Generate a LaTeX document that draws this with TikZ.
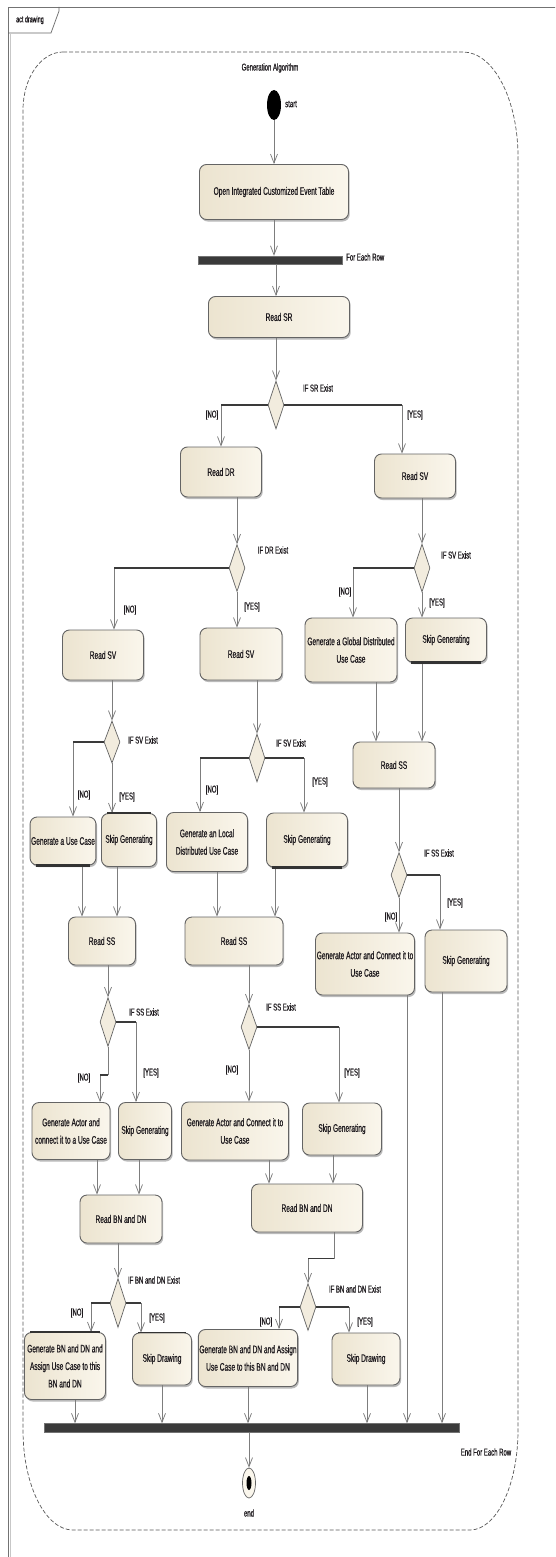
\documentclass[tikz,border=0pt]{standalone}
\usepackage{fontspec}
\setmainfont{Liberation Sans}[FakeStretch=0.6,FakeBold=0.6]
\usetikzlibrary{arrows.meta,shapes.geometric,shadows}

\definecolor{boxA}{RGB}{236,228,208}
\definecolor{boxB}{RGB}{250,246,236}
\definecolor{boxline}{RGB}{100,100,100}
\definecolor{flowc}{RGB}{125,125,125}
\definecolor{darkc}{RGB}{58,58,58}
\definecolor{txt}{RGB}{30,26,30}

\tikzset{
  act/.style={rectangle, rounded corners=7pt, draw=boxline, line width=0.9pt,
    left color=boxA, right color=boxB, align=center, inner sep=1pt,
    font=\fontsize{11}{17.5}\selectfont, text=txt,
    drop shadow={shadow xshift=1.2pt, shadow yshift=-2pt, fill=black!45, opacity=.6}},
  dec/.style={diamond, draw=boxline, line width=0.7pt, fill=boxA!70!white,
    minimum width=16pt, minimum height=48pt, inner sep=0pt},
  bar/.style={rectangle, fill=darkc, draw=black!55, inner sep=0pt},
  flow/.style={draw=flowc, line width=0.75pt, -{Straight Barb[length=9pt,width=7pt]}},
  branch/.style={draw=darkc, line width=1.4pt},
  lbl/.style={font=\fontsize{10}{12}\selectfont, text=txt, inner sep=0pt},
  heavy/.style={draw=black!80, line width=2.2pt},
}

\begin{document}
\begin{tikzpicture}[x=1pt,y=-1pt]
\clip (0,0) rectangle (555,1557);
\fill[white] (0,0) rectangle (555,1557);

% diagram frame and its name tab
\draw[black!55, line width=0.8pt] (8,1600) -- (8,7) -- (600,7);
\draw[black!22, line width=0.8pt] (10.5,1600) -- (10.5,34);
\draw[black!60, line width=0.7pt] (8,33) -- (51,33) -- (59,11) -- (59,7);
\node[lbl, font=\fontsize{9}{10}\selectfont] (frametitle) at (30,20) {act drawing};

% activity region
\draw[black!65, line width=0.7pt, dash pattern=on 4pt off 2pt]
  (63,52) -- (463,52) arc[start angle=90, end angle=0, x radius=55pt, y radius=105pt]
  -- (518,1430) arc[start angle=0, end angle=-90, x radius=48pt, y radius=100pt]
  -- (73,1530) arc[start angle=-90, end angle=-180, x radius=50pt, y radius=100pt]
  -- (23,110) arc[start angle=180, end angle=90, x radius=40pt, y radius=58pt] -- cycle;
\node[lbl] (regiontitle) at (270,68) {Generation Algorithm};

% ---- nodes ----
\node[ellipse, fill=black, minimum width=14pt, minimum height=30pt, inner sep=0pt] (start) at (274,105) {};
\node[lbl, anchor=west] (startlbl) at (285,104) {start};
\node[act, minimum width=149pt, minimum height=55pt] (open) at (274,192) {Open Integrated Customized Event Table};
\node[bar, minimum width=144pt, minimum height=8pt] (fork) at (270,260) {};
\node[lbl, anchor=west] (forklbl) at (346,257) {For Each Row};
\node[act, minimum width=141pt, minimum height=41pt] (readSR) at (279,317) {Read SR};

\node[dec] (d1) at (276,405) {};
\node[lbl] (d1lbl) at (318,388) {IF SR Exist};
\node[act, minimum width=81pt, minimum height=50pt] (readDR) at (221,472) {Read DR};
\node[act, minimum width=81pt, minimum height=44pt] (readSVr) at (415,476) {Read SV};

\node[dec, minimum height=47pt] (d2) at (237,568) {};
\node[lbl] (d2lbl) at (273,550) {IF DR Exist};
\node[act, minimum width=81pt, minimum height=50pt] (readSVl) at (103,655) {Read SV};
\node[act, minimum width=82pt, minimum height=52pt] (readSVm) at (241,654) {Read SV};

\node[dec] (d3) at (422,568) {};
\node[lbl] (d3lbl) at (456,555) {IF SV Exist};
\node[act, minimum width=92pt, minimum height=64pt] (genGlobal) at (351,650) {Generate a Global Distributed\\Use Case};
\node[act, minimum width=81pt, minimum height=44pt] (skipR1) at (446,640) {Skip Generating};

\node[dec, minimum height=42pt] (d4) at (112,742) {};
\node[lbl] (d4lbl) at (143,740) {IF SV Exist};
\node[act, minimum width=65pt, minimum height=48pt] (genUC) at (63,841) {Generate a Use Case};
\node[act, minimum width=55pt, minimum height=53pt] (skipL1) at (129,840) {Skip Generating};

\node[dec] (d5) at (257,758) {};
\node[lbl] (d5lbl) at (291,743) {IF SV Exist};
\node[act, minimum width=81pt, minimum height=59pt] (genLocal) at (207,842) {Generate an Local\\Distributed Use Case};
\node[act, minimum width=81pt, minimum height=54pt] (skipM1) at (307,840) {Skip Generating};

\node[act, minimum width=82pt, minimum height=46pt] (readSSr) at (394,765) {Read SS};
\node[dec, minimum height=45pt] (d6) at (399,875) {};
\node[lbl] (d6lbl) at (439,853) {IF SS Exist};
\node[act, minimum width=99pt, minimum height=62pt] (genActorR) at (365,964) {Generate Actor and Connect it to\\Use Case};
\node[act, minimum width=82pt, minimum height=62pt] (skipR2) at (466,961) {Skip Generating};

\node[act, minimum width=67pt, minimum height=48pt] (readSSl) at (102,941) {Read SS};
\node[act, minimum width=98pt, minimum height=48pt] (readSSm) at (234,941) {Read SS};

\node[dec, minimum height=49pt] (d7) at (108,1022) {};
\node[lbl] (d7lbl) at (144,1012) {IF SS Exist};
\node[act, minimum width=78pt, minimum height=57pt] (genActorL) at (71,1131) {Generate Actor and\\connect it to a Use Case};
\node[act, minimum width=53pt, minimum height=57pt] (skipL2) at (145,1131) {Skip Generating};

\node[dec, minimum height=45pt] (d8) at (249,1027) {};
\node[lbl] (d8lbl) at (281,1007) {IF SS Exist};
\node[act, minimum width=107pt, minimum height=58pt] (genActorM) at (235,1131) {Generate Actor and Connect it to\\Use Case};
\node[act, minimum width=79pt, minimum height=52pt] (skipM2) at (342,1129) {Skip Generating};

\node[act, minimum width=82pt, minimum height=48pt] (readBNl) at (121,1219) {Read BN and DN};
\node[act, minimum width=111pt, minimum height=48pt] (readBNm) at (307,1208) {Read BN and DN};

\node[dec, minimum height=49pt] (d9) at (118,1303) {};
\node[lbl] (d9lbl) at (154,1280) {IF BN and DN Exist};
\node[act, minimum width=81pt, minimum height=67pt] (genBNl) at (65,1366) {Generate BN and DN and\\Assign Use Case to this\\BN and DN};
\node[act, minimum width=59pt, minimum height=52pt] (skipL3) at (162,1359) {Skip Drawing};

\node[dec, minimum height=47pt] (d10) at (308,1307) {};
\node[lbl] (d10lbl) at (355,1289) {IF BN and DN Exist};
\node[act, minimum width=98pt, minimum height=57pt] (genBNm) at (248,1358) {Generate BN and DN and Assign\\Use Case to this BN and DN};
\node[act, minimum width=68pt, minimum height=52pt] (skipM3) at (366,1359) {Skip Drawing};

\node[bar, minimum width=415pt, minimum height=9pt] (join) at (252,1428) {};
\node[lbl] (joinlbl) at (486,1452) {End For Each Row};
\node[ellipse, draw=boxline, fill=boxB, line width=0.7pt, minimum width=13pt, minimum height=30pt, inner sep=0pt] (endnode) at (249,1483) {};
\node[ellipse, fill=black, minimum width=5pt, minimum height=14pt, inner sep=0pt] (endin) at (249,1483) {};
\node[lbl] (endlbl) at (249,1513) {end};

% guard labels
\node[lbl] (no1) at (212,415) {[NO]};   \node[lbl] (yes1) at (415,415) {[YES]};
\node[lbl] (no2) at (130,610) {[NO]};   \node[lbl] (yes2) at (252,607) {[YES]};
\node[lbl] (no3) at (345,592) {[NO]};   \node[lbl] (yes3) at (437,603) {[YES]};
\node[lbl] (no4) at (84,795) {[NO]};    \node[lbl] (yes4) at (127,797) {[YES]};
\node[lbl] (no5) at (212,790) {[NO]};   \node[lbl] (yes5) at (320,782) {[YES]};
\node[lbl] (no6) at (391,917) {[NO]};   \node[lbl] (yes6) at (455,903) {[YES]};
\node[lbl] (no7) at (84,1078) {[NO]};   \node[lbl] (yes7) at (151,1073) {[YES]};
\node[lbl] (no8) at (232,1070) {[NO]};  \node[lbl] (yes8) at (352,1073) {[YES]};
\node[lbl] (no9) at (77,1313) {[NO]};   \node[lbl] (yes9) at (157,1318) {[YES]};
\node[lbl] (no10) at (266,1322) {[NO]}; \node[lbl] (yes10) at (365,1322) {[YES]};

% ---- control flows ----
\draw[flow] (start.south) -- (open.north);
\draw[flow] (open.south) -- (open.south |- fork.north);
\draw[flow] (fork.south -| d1) -- (readSR.north -| d1);
\draw[flow] (readSR.south -| d1) -- (d1.north);

\draw[flow] (d1.west) -| coordinate[pos=.5] (k1w) (readDR.north);
\draw[flow] (d1.east) -| coordinate[pos=.5] (k1e) ([xshift=-13pt]readSVr.north);
\draw[branch] (d1.west) -- (k1w);  \draw[branch] (d1.east) -- (k1e);

\draw[flow] (readDR.south -| d2) -- (d2.north);
\draw[flow] (d2.west) -| coordinate[pos=.5] (k2w) ([xshift=11pt]readSVl.north);
\draw[branch] (d2.west) -- (k2w);
\draw[flow] (d2.south) -- (readSVm.north -| d2);

\draw[flow] (readSVr.south -| d3) -- (d3.north);
\draw[flow] (d3.west) -| coordinate[pos=.5] (k3w) ([xshift=2pt]genGlobal.north);
\draw[branch] (d3.west) -- (k3w);
\draw[flow] (d3.south) -- (skipR1.north -| d3);

\draw[flow] (readSVl.south -| d4) -- (d4.north);
\draw[flow] (d4.west) -| coordinate[pos=.5] (k4w) ([xshift=10pt]genUC.north);
\draw[branch] (d4.west) -- (k4w);
\draw[flow] (d4.south) -- (skipL1.north -| d4);

\draw[flow] (readSVm.south -| d5) -- (d5.north);
\draw[flow] (d5.west) -| coordinate[pos=.5] (k5w) ([xshift=-7pt]genLocal.north);
\draw[flow] (d5.east) -| coordinate[pos=.5] (k5e) ([xshift=-3pt]skipM1.north);
\draw[branch] (d5.west) -- (k5w);  \draw[branch] (d5.east) -- (k5e);

\draw[flow] ([xshift=25pt]genGlobal.south) -- ([xshift=-18pt]readSSr.north);
\draw[flow] (skipR1.south -| d3) -- (readSSr.north -| d3);
\draw[flow] (readSSr.south -| d6) -- (d6.north);
\draw[flow] (d6.south) -- (genActorR.north -| d6);
\draw[flow] (d6.east) -| coordinate[pos=.5] (k6e) ([xshift=-26pt]skipR2.north);
\draw[branch] (d6.east) -- (k6e);

\draw[flow] ([xshift=19pt]genUC.south) -- ([xshift=-20pt]readSSl.north);
\draw[flow] ([xshift=-12pt]skipL1.south) -- ([xshift=15pt]readSSl.north);
\draw[flow] ([xshift=10pt]genLocal.south) -- ([xshift=-17pt]readSSm.north);
\draw[flow] ([xshift=-32pt]skipM1.south) -- ([xshift=41pt]readSSm.north);

\draw[flow] (readSSl.south -| d7) -- (d7.north);
\draw[flow] (d7.east) -| coordinate[pos=.5] (k7e) ([xshift=-9pt]skipL2.north);
\draw[branch] (d7.east) -- (k7e);
\draw[flow] (d7.south) -- ++(0,28) coordinate (k7a) -| coordinate[pos=.5] (k7b) ([xshift=29pt]genActorL.north);
\draw[branch] (k7a) -- (k7b);

\draw[flow] (readSSm.south -| d8) -- (d8.north);
\draw[flow] (d8.south) -- (genActorM.north -| d8);
\draw[flow] (d8.east) -| coordinate[pos=.5] (k8e) ([xshift=-3pt]skipM2.north);
\draw[branch] (d8.east) -- (k8e);

\draw[flow] ([xshift=42pt]genActorR.south) -- ([xshift=155pt]join.north);
\draw[flow] ([xshift=-24pt]skipR2.south) -- ([xshift=190pt]join.north);

\draw[flow] ([xshift=26pt]genActorL.south) -- ([xshift=-24pt]readBNl.north);
\draw[flow] ([xshift=-6pt]skipL2.south) -- ([xshift=18pt]readBNl.north);
\draw[flow] ([xshift=34pt]genActorM.south) -- ([xshift=-38pt]readBNm.north);
\draw[flow] ([xshift=-9pt]skipM2.south) -- ([xshift=26pt]readBNm.north);

\draw[flow] (readBNl.south -| d9) -- (d9.north);
\draw[flow] (d9.west) -| coordinate[pos=.5] (k9w) ([xshift=26pt]genBNl.north);
\draw[flow] (d9.east) -| coordinate[pos=.5] (k9e) ([xshift=-21pt]skipL3.north);
\draw[branch] (d9.west) -- (k9w);  \draw[branch] (d9.east) -- (k9e);

\draw[flow] ([xshift=27pt]readBNm.south) -- ++(0,26) coordinate (k10a) -| coordinate[pos=.5] (k10b) (d10.north);
\draw[branch] (k10a) -- (k10b);
\draw[flow] (d10.west) -| coordinate[pos=.5] (k10w) ([xshift=31pt]genBNm.north);
\draw[flow] (d10.east) -| coordinate[pos=.5] (k10e) ([xshift=-17pt]skipM3.north);
\draw[branch] (d10.west) -- (k10w);  \draw[branch] (d10.east) -- (k10e);

\draw[flow] ([xshift=10pt]genBNl.south) -- ([xshift=-177pt]join.north);
\draw[flow] (skipL3.south) -- ([xshift=-90pt]join.north);
\draw[flow] (genBNm.south) -- ([xshift=-4pt]join.north);
\draw[flow] ([xshift=1pt]skipM3.south) -- ([xshift=115pt]join.north);
\draw[flow] ([xshift=-3pt]join.south) -- (endnode.north);

% heavier edges on some action boxes
\draw[heavy] ([xshift=6pt]genUC.south west) -- ([xshift=-6pt]genUC.south east);
\draw[heavy] ([xshift=6pt]skipL1.north west) -- ([xshift=-6pt]skipL1.north east);
\draw[heavy] ([xshift=6pt]skipM1.south west) -- ([xshift=-6pt]skipM1.south east);
\draw[heavy] ([xshift=6pt]skipR1.south west) -- ([xshift=-6pt]skipR1.south east);
\draw[heavy, line width=1.5pt] ([xshift=6pt]skipL3.north west) -- ([xshift=-6pt]skipL3.north east);
\draw[heavy, line width=1.5pt] ([xshift=6pt]genBNl.north west) -- ([xshift=-6pt]genBNl.north east);
\end{tikzpicture}
\end{document}
